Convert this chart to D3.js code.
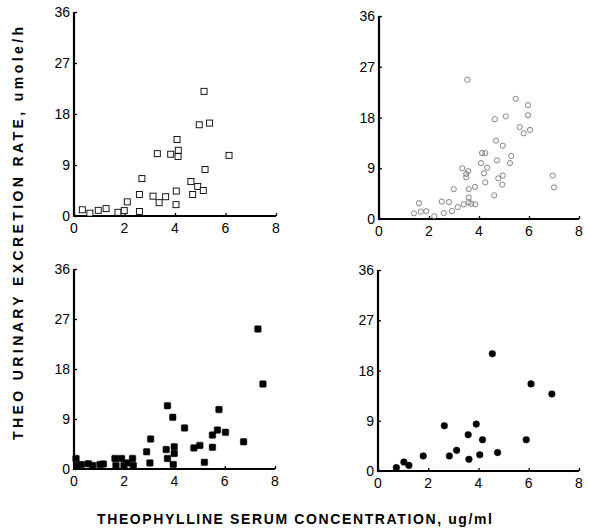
<!DOCTYPE html>
<html>
<head>
<meta charset="utf-8">
<script src="https://cdn.jsdelivr.net/npm/d3@7"></script>
<style>
  body { margin: 0; background: #fff; }
  text { font-family: "Liberation Sans", Arial, Helvetica, sans-serif; }
</style>
</head>
<body>
<div id="chart"></div>
<script>
// axis ticks shared by all four panels
var xTicks = [0, 2, 4, 6, 8],
    yTicks = [0, 9, 18, 27, 36];

// top-left: open squares [serum conc, excretion rate]
var openSquares = [
  [0.33, 1.1], [0.63, 0.5], [0.96, 1.0], [1.27, 1.3], [1.74, 0.65], [1.99, 0.95],
  [2.11, 2.5], [2.59, 0.8], [2.59, 3.8], [2.69, 6.6], [3.13, 3.5], [3.37, 2.35],
  [3.30, 11.0], [3.63, 3.4], [3.83, 10.9], [4.04, 2.0], [4.05, 4.4], [4.08, 13.5],
  [4.13, 11.6], [4.12, 10.5], [4.63, 6.1], [4.70, 3.8], [4.90, 5.2], [5.12, 4.5],
  [4.96, 16.1], [5.37, 16.4], [5.15, 22.0], [5.19, 8.2], [6.14, 10.7]
];

// top-right: open circles
var openCircles = [
  [1.40, 1.0], [1.60, 2.8], [1.67, 1.3], [1.89, 1.4], [2.21, 0.5], [2.51, 3.1],
  [2.59, 1.05], [2.80, 3.0], [2.92, 1.4], [2.99, 5.3], [3.15, 2.1], [3.33, 9.0],
  [3.39, 2.6], [3.49, 8.0], [3.49, 7.4], [3.57, 8.5], [3.59, 3.8], [3.59, 2.95],
  [3.59, 5.3], [3.69, 2.7], [3.85, 2.6], [3.53, 24.7], [3.84, 5.7], [4.08, 9.9],
  [4.12, 11.7], [4.25, 11.7], [4.20, 8.1], [4.25, 6.5], [4.33, 9.1], [4.61, 4.2],
  [4.63, 17.7], [4.72, 10.4], [4.68, 13.9], [4.77, 7.2], [4.95, 13.0], [4.93, 6.1],
  [4.95, 7.7], [5.07, 18.2], [5.24, 9.9], [5.29, 11.2], [5.47, 21.3], [5.63, 16.3],
  [5.79, 15.2], [5.96, 20.2], [5.96, 18.4], [6.04, 15.8], [6.95, 7.7], [7.00, 5.6]
];

// bottom-left: filled squares
var filledSquares = [
  [0.08, 1.9], [0.11, 0.65], [0.30, 0.8], [0.57, 0.95], [0.74, 0.65], [1.03, 0.8],
  [1.17, 0.9], [1.63, 1.9], [1.67, 0.65], [1.89, 1.9], [1.99, 0.65], [2.12, 1.1],
  [2.33, 1.9], [2.36, 0.65], [2.89, 3.1], [3.02, 1.1], [3.05, 5.4], [3.67, 3.5],
  [3.72, 1.9], [3.72, 11.4], [3.93, 9.3], [3.99, 4.0], [3.99, 2.8], [3.95, 0.8],
  [4.40, 7.4], [4.77, 3.8], [5.01, 4.25], [5.19, 1.2], [5.51, 3.9], [5.51, 6.1],
  [5.71, 7.0], [5.77, 10.7], [6.03, 6.6], [6.75, 4.9], [7.32, 25.2], [7.52, 15.3]
];

// bottom-right: filled circles
var filledCircles = [
  [0.73, 0.6], [1.03, 1.6], [1.23, 1.0], [1.80, 2.7], [2.64, 8.1], [2.84, 2.7],
  [3.13, 3.7], [3.59, 6.5], [3.62, 2.1], [3.91, 8.4], [4.05, 2.9], [4.16, 5.6],
  [4.55, 21.0], [4.76, 3.3], [5.90, 5.6], [6.09, 15.6], [6.92, 13.8]
];

var xTitle = "THEOPHYLLINE SERUM CONCENTRATION, ug/ml",
    yTitle = "THEO URINARY EXCRETION RATE, umole/h";

var width = 590,
    height = 530;

var svg = d3.select("#chart").append("svg")
    .attr("width", width)
    .attr("height", height);

// pixel frame of each panel: x0..x8, y0..y36
var panels = [
  { data: openSquares,   shape: "square", filled: false, l: 74,  r: 276, b: 216, t: 12 },
  { data: openCircles,   shape: "circle", filled: false, l: 379, r: 579, b: 219, t: 16 },
  { data: filledSquares, shape: "square", filled: true,  l: 74,  r: 275, b: 469, t: 269 },
  { data: filledCircles, shape: "circle", filled: true,  l: 378, r: 579, b: 471, t: 270 }
];

panels.forEach(function(p) {
  var x = d3.scaleLinear().domain([0, 8]).range([p.l, p.r]),
      y = d3.scaleLinear().domain([0, 36]).range([p.b, p.t]);

  var g = svg.append("g");

  // axes: short inward ticks, thick black lines
  var xAxis = g.append("g")
      .attr("transform", "translate(0," + p.b + ")")
      .call(d3.axisTop(x).tickValues(xTicks).tickSize(3).tickFormat(""));
  var yAxis = g.append("g")
      .attr("transform", "translate(" + p.l + ",0)")
      .call(d3.axisRight(y).tickValues(yTicks).tickSize(3).tickFormat(""));

  [xAxis, yAxis].forEach(function(a) {
    a.select(".domain").remove();
    a.selectAll(".tick line").attr("stroke", "#000").attr("stroke-width", 1.3);
  });

  g.append("line")
      .attr("x1", x(0) - 1).attr("x2", x(8))
      .attr("y1", y(0)).attr("y2", y(0))
      .attr("stroke", "#000").attr("stroke-width", 2.2);
  g.append("line")
      .attr("x1", x(0)).attr("x2", x(0))
      .attr("y1", y(36)).attr("y2", y(0) + 1)
      .attr("stroke", "#000").attr("stroke-width", 2.2);

  // tick labels
  g.selectAll(".xl")
      .data(xTicks)
      .enter().append("text")
      .attr("x", function(d) { return x(d); })
      .attr("y", y(0) + 17)
      .attr("text-anchor", "middle")
      .style("font-size", "14px")
      .text(function(d) { return d; });

  g.selectAll(".yl")
      .data(yTicks)
      .enter().append("text")
      .attr("x", x(0) - 4)
      .attr("y", function(d) { return y(d) + 5; })
      .attr("text-anchor", "end")
      .style("font-size", "14px")
      .text(function(d) { return d; });

  // markers
  if (p.shape === "square") {
    var s = p.filled ? 6.5 : 6;
    g.selectAll("rect.pt")
        .data(p.data)
        .enter().append("rect")
        .attr("class", "pt")
        .attr("x", function(d) { return x(d[0]) - s / 2; })
        .attr("y", function(d) { return y(d[1]) - s / 2; })
        .attr("width", s)
        .attr("height", s)
        .attr("rx", p.filled ? 1 : 0)
        .style("fill", p.filled ? "#000" : "#fff")
        .style("stroke", "#000")
        .style("stroke-width", p.filled ? 0.5 : 0.9);
  } else {
    g.selectAll("circle.pt")
        .data(p.data)
        .enter().append("circle")
        .attr("class", "pt")
        .attr("cx", function(d) { return x(d[0]); })
        .attr("cy", function(d) { return y(d[1]); })
        .attr("r", p.filled ? 3.3 : 2.6)
        .style("fill", p.filled ? "#000" : "none")
        .style("stroke", p.filled ? "#000" : "#666")
        .style("stroke-width", p.filled ? 0.5 : 0.8);
  }
});

// shared titles
svg.append("text")
    .attr("x", 97)
    .attr("y", 524)
    .attr("textLength", 395)
    .attr("lengthAdjust", "spacing")
    .style("font-size", "14px")
    .style("font-weight", "bold")
    .text(xTitle);

svg.append("text")
    .attr("transform", "translate(23,440) rotate(-90)")
    .attr("textLength", 413)
    .attr("lengthAdjust", "spacing")
    .style("font-size", "14px")
    .style("font-weight", "bold")
    .text(yTitle);
</script>
</body>
</html>
